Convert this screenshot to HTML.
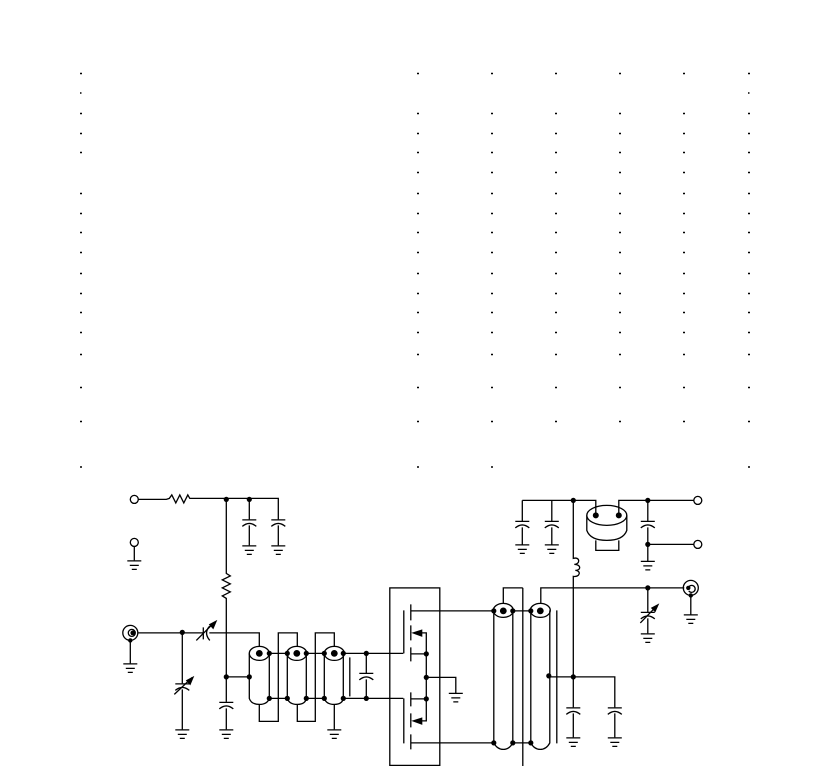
<!DOCTYPE html>
<html><head><meta charset="utf-8"><title>RF amplifier schematic</title>
<style>html,body{margin:0;padding:0;background:#fff}svg{display:block}</style></head>
<body>
<svg xmlns="http://www.w3.org/2000/svg" width="816" height="766" viewBox="0 0 816 766">
<defs>
<g id="gnd" fill="none" stroke="#000" stroke-width="1.3"><path d="M-7 0H7M-4.500 4.500H4.500M-2.500 8.500H2.500"/></g>
<g id="cap" fill="none" stroke="#000" stroke-width="1.3"><path d="M-7 0H7M-7 6.500Q0 .5 7 6.500"/></g>
</defs>
<rect width="816" height="766" fill="#fff"/>

<path fill="none" stroke="#000" stroke-width="1.5" d="
M80 73.500h2M417 73.500h2M491 73.500h2M555 73.500h2M619 73.500h2M683 73.500h2M748 73.500h2
M80 93h1.500M748 93h1.500
M80 113.500h2M417 113.500h2M491 113.500h2M555 113.500h2M619 113.500h2M683 113.500h2M748 113.500h2
M80 133.500h2M417 133.500h2M491 133.500h2M555 133.500h2M619 133.500h2M683 133.500h2M748 133.500h2
M80 152.500h2M417 152.500h2M491 152.500h2M555 152.500h2M619 152.500h2M683 152.500h2M748 152.500h2
M417 172.500h2M491 172.500h2M555 172.500h2M619 172.500h2M683 172.500h2M748 172.500h2
M80 193.500h2M417 193.500h2M491 193.500h2M555 193.500h2M619 193.500h2M683 193.500h2M748 193.500h2
M80 213.500h2M417 213.500h2M491 213.500h2M555 213.500h2M619 213.500h2M683 213.500h2M748 213.500h2
M80 232.500h2M417 232.500h2M491 232.500h2M555 232.500h2M619 232.500h2M683 232.500h2M748 232.500h2
M80 252.500h2M417 252.500h2M491 252.500h2M555 252.500h2M619 252.500h2M683 252.500h2M748 252.500h2
M80 273.500h2M417 273.500h2M491 273.500h2M555 273.500h2M619 273.500h2M683 273.500h2M748 273.500h2
M80 293.500h2M417 293.500h2M491 293.500h2M555 293.500h2M619 293.500h2M683 293.500h2M748 293.500h2
M80 312.500h2M417 312.500h2M491 312.500h2M555 312.500h2M619 312.500h2M683 312.500h2M748 312.500h2
M80 332.500h2M417 332.500h2M491 332.500h2M555 332.500h2M619 332.500h2M683 332.500h2M748 332.500h2
M80 354.500h2M417 354.500h2M491 354.500h2M555 354.500h2M619 354.500h2M683 354.500h2M748 354.500h2
M80 387.500h2M417 387.500h2M491 387.500h2M555 387.500h2M619 387.500h2M683 387.500h2M748 387.500h2
M80 421.500h2M417 421.500h2M491 421.500h2M555 421.500h2M619 421.500h2M683 421.500h2M748 421.500h2
M80 467h2M417 467h2M491 467h2M748 467h2"/>

<g transform="translate(.3 .4)">
<g fill="none" stroke="#000" stroke-width="1.3">
<!-- top-left supply -->
<circle cx="134" cy="499" r="4"/>
<path d="M138 499H166l3-1 2.500-3.500 4 8 4-8 4 8 4-8 2 3.500H278V519"/>
<circle cx="134" cy="542" r="4"/>
<path d="M134 546V560"/>
<path d="M249 499V519M249 525V545M278 525V545"/>
<path d="M226 499V573l4 2.500-8 4 8 4-8 4 8 4-8 4 4 2.500V701.500M226 708V729"/>
<!-- left BNC -->
<circle cx="130" cy="632.500" r="7.500"/><circle cx="131.500" cy="632.500" r="3.500"/>
<path d="M130 640V663"/>
<path d="M137.500 632.500H203M209 632.500H259V646"/>
<path d="M182 632.500V683M182 689V729"/>
<path d="M203 627V639M209.500 625.500Q203 632.500 209.500 640"/>
<path d="M174 694L192 677M196 640L213 623"/>
<!-- cylinders -->
<ellipse cx="259" cy="653" rx="10" ry="7"/>
<ellipse cx="296.500" cy="653" rx="10" ry="7"/>
<ellipse cx="334" cy="653" rx="10" ry="7"/>
<path d="M249 653V698Q251 704 259 704Q267 704 269 698V653"/>
<path d="M287 653V698Q289 704 297 704Q305 704 306 698V653"/>
<path d="M324 653V698Q326 704 334 704Q342 704 343 698V653"/>
<path d="M226 676.500H249M269 653H287M306 653H324M343 653H403M269 698H287M306 698H324M343 698H403"/>
<path d="M259 704V721H278V632.500H297V646M297 704V721H315V632.500H334V646M334 704V729"/>
<path d="M349.500 657V696"/>
<path d="M366 653V673M366 679V698"/>
<!-- MOSFET box -->
<rect x="389.500" y="587.500" width="50" height="177.500"/>
<path d="M403.500 610V653M410.500 604V620M410.500 625V640M410.500 647V661M410.500 610.500H493M410.500 653.500H426M421 632.500H426V720.500H421"/>
<path d="M403.500 698V743M410.500 692V706M410.500 713V727M410.500 734V749M410.500 742.500H493M410.500 698.500H426"/>
<path d="M426 677H455.500V693"/>
<!-- right cylinders -->
<ellipse cx="503" cy="610" rx="10" ry="7"/>
<ellipse cx="540" cy="610" rx="10" ry="7"/>
<path d="M493.500 610V742.500Q497 749 503 749Q509 749 512.500 742.500V610"/>
<path d="M530.500 610V742.500Q534 749 540 749Q546 749 549.500 742.500V610"/>
<path d="M512.500 610.500H530.500M512.500 742.500H530.500"/>
<path d="M503 603V587.500H522.500M522.500 587.500V766M540.500 603V587.500H684"/>
<path d="M556.500 610V743"/>
<path d="M548.500 676.500H614.500V707"/>
<!-- supply vertical -->
<path d="M522 500H595.500V515M522 500V521M551.500 500V521M522 527V544.500M551.500 527V544.500"/>
<path d="M573 500V558c7-2 7 6 1 6c7 0 7 6 1 6c6 0 5 7-2 6V707M573 713V737M614.500 713V737"/>
<!-- right toroid -->
<ellipse cx="606.500" cy="515" rx="20" ry="10"/>
<path d="M586.500 515V530Q590 540 606.500 540Q623 540 626.500 530V515"/>
<path d="M595.500 540V550H618.500V540M618.500 515V500H693.500"/>
<circle cx="697.500" cy="500" r="4"/>
<path d="M647.500 500V521M647.500 527V561M647.500 544H693.500"/>
<circle cx="697.500" cy="544" r="4"/>
<!-- right BNC -->
<circle cx="690.500" cy="587.500" r="7.500"/>
<path d="M688 587.500a3.500 3.500 0 1 1 0.500 3"/>
<path d="M690.500 595V614.500"/>
<path d="M647.500 587.500V612M647.500 618V633"/>
<path d="M640 622.500L656 606"/>
</g>

<!-- arrow heads -->
<g fill="#000" stroke="none">
<path d="M194 675.500L185.500 680L190 685Z"/>
<path d="M217 619.500L208.500 624L213 629Z"/>
<path d="M659 603L650.500 607.500L655 612Z"/>
<path d="M411 632.500L422 629V636.500Z"/>
<path d="M411 720.500L422 717V724.500Z"/>
</g>

<!-- capacitors -->
<use href="#cap" x="249" y="519.500"/><use href="#cap" x="278" y="519.500"/>
<use href="#cap" x="226" y="702"/><use href="#cap" x="182" y="683.500"/>
<use href="#cap" x="366" y="673"/>
<use href="#cap" x="522" y="521"/><use href="#cap" x="551.500" y="521"/>
<use href="#cap" x="647.500" y="521"/><use href="#cap" x="647.500" y="612"/>
<use href="#cap" x="573" y="707.500"/><use href="#cap" x="614.500" y="707.500"/>

<!-- grounds -->
<use href="#gnd" x="134" y="560.500"/><use href="#gnd" x="130" y="663.500"/>
<use href="#gnd" x="249" y="545.500"/><use href="#gnd" x="278" y="545.500"/>
<use href="#gnd" x="182" y="729.500"/><use href="#gnd" x="226" y="729.500"/>
<use href="#gnd" x="334" y="729.500"/><use href="#gnd" x="455.500" y="693"/>
<use href="#gnd" x="522" y="544.500"/><use href="#gnd" x="551.500" y="544.500"/>
<use href="#gnd" x="647.500" y="561"/><use href="#gnd" x="647.500" y="633.500"/>
<use href="#gnd" x="690.500" y="614.500"/>
<use href="#gnd" x="573" y="737.500"/><use href="#gnd" x="614.500" y="737.500"/>

<!-- junction dots -->
<g fill="#000" stroke="none">
<circle cx="226" cy="499" r="2.600"/><circle cx="249" cy="499" r="2.600"/>
<circle cx="182" cy="632" r="2.600"/><circle cx="132.500" cy="632.500" r="2.400"/><circle cx="130" cy="640" r="2.200"/>
<circle cx="226" cy="676.500" r="2.600"/><circle cx="249" cy="676.500" r="2.600"/>
<circle cx="259" cy="653" r="3.400"/><circle cx="296.500" cy="653" r="3.400"/><circle cx="334" cy="653" r="3.400"/>
<circle cx="269" cy="653" r="2.600"/><circle cx="287" cy="653" r="2.600"/><circle cx="306" cy="653" r="2.600"/><circle cx="324" cy="653" r="2.600"/><circle cx="343" cy="653" r="2.600"/><circle cx="366" cy="653" r="2.600"/>
<circle cx="269" cy="698" r="2.600"/><circle cx="287" cy="698" r="2.600"/><circle cx="306" cy="698" r="2.600"/><circle cx="324" cy="698" r="2.600"/><circle cx="343" cy="698" r="2.600"/><circle cx="366" cy="698" r="2.600"/>
<circle cx="426" cy="653.500" r="2.600"/><circle cx="426" cy="677" r="2.600"/><circle cx="426" cy="698.500" r="2.600"/>
<circle cx="503" cy="610.500" r="3.400"/><circle cx="540" cy="610.500" r="3.400"/>
<circle cx="493.500" cy="610.500" r="2.600"/><circle cx="512.500" cy="610.500" r="2.600"/><circle cx="530.500" cy="610.500" r="2.600"/>
<circle cx="493.500" cy="742.500" r="2.600"/><circle cx="512.500" cy="742.500" r="2.600"/><circle cx="530.500" cy="742.500" r="2.600"/>
<circle cx="548.500" cy="675.500" r="2.600"/><circle cx="573" cy="676.500" r="2.600"/>
<circle cx="573" cy="500" r="2.600"/><circle cx="647.500" cy="500" r="2.600"/>
<circle cx="595.500" cy="515" r="3"/><circle cx="618.500" cy="515" r="3"/>
<circle cx="647.500" cy="544" r="2.600"/><circle cx="647.500" cy="587.500" r="2.600"/>
<circle cx="688" cy="587.500" r="2.200"/><circle cx="690.500" cy="595" r="2.200"/>
</g>
</g>
</svg>
</body></html>
